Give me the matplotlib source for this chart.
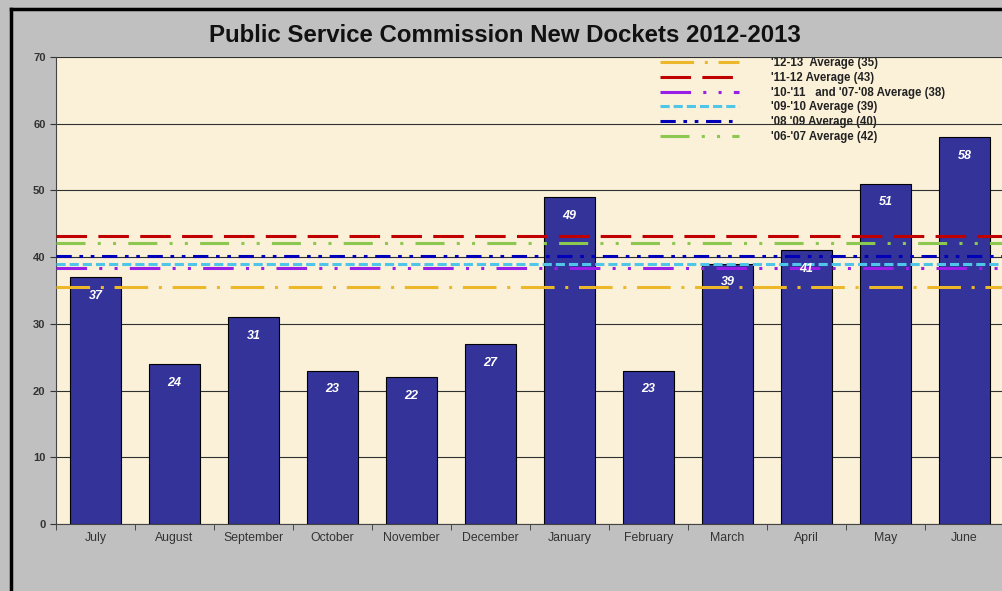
import matplotlib.pyplot as plt
from matplotlib.lines import Line2D
import numpy as np

# Monthly new dockets
months = ['July', 'August', 'September', 'October', 'November', 'December',
          'January', 'February', 'March', 'April', 'May', 'June']
dockets = [37, 24, 31, 23, 22, 27, 49, 23, 39, 41, 51, 58]

# Average lines for earlier years
avg_labels = ["'12-13  Average (35)", "'11-12 Average (43)",
              "'10-'11   and '07-'08 Average (38)", "'09-'10 Average (39)",
              "'08 '09 Average (40)", "'06-'07 Average (42)"]
avg_values = [35.5, 43.1, 38.3, 39.0, 40.2, 42.1]

avg_colors = ['#ecb82a', '#c00000', '#9a1fe6', '#4fc6e8', '#0000b8', '#8cc850']
avg_dashes = [(11, 3.5, 1, 3.5), (10, 3.7), (10, 4, 1, 4, 1, 4), (3, 1.3),
              (5, 2.5, 1.2, 2.5, 1.2, 2.5), (9.5, 4, 1, 4, 1, 4)]

plt.rcParams['font.family'] = ['Liberation Sans', 'DejaVu Sans']

fig = plt.figure(figsize=(10.02, 5.91), dpi=100, facecolor='#c0c0c0')
ax = fig.add_axes([56 / 1002, 1 - 524 / 591, 948 / 1002, 467 / 591])
ax.set_facecolor('#fbf1d9')

x = np.arange(len(months))
bars = ax.bar(x, dockets, width=0.645, color='#333399', edgecolor='black',
              linewidth=0.8, zorder=2)

# value labels inside bars
for xi, v in zip(x, dockets):
    ax.text(xi, v - 2.8, str(v), ha='center', va='center', color='white',
            fontsize=9, fontweight='bold', fontstyle='italic', zorder=4)

# average lines across the whole chart
handles = []
for lab, val, col, dsh in zip(avg_labels, avg_values, avg_colors, avg_dashes):
    ln = ax.axhline(val, color=col, linewidth=2.2, dashes=dsh, zorder=3, label=lab)
    handles.append(ln)

ax.set_xlim(-0.5, len(months) - 0.5)
ax.set_ylim(0, 70)
ax.set_yticks(range(0, 71, 10))
ax.set_xticks(x)
ax.set_xticklabels(months, fontsize=8.8, color='#333333')
ax.set_xticks(np.arange(-0.5, len(months), 1), minor=True)
ax.tick_params(axis='x', which='major', length=0, pad=6)
ax.tick_params(axis='x', which='minor', length=4, direction='out', color='#333333')
ax.tick_params(axis='y', length=4, direction='out', color='#333333')
for t in ax.get_yticklabels():
    t.set_fontsize(8)
    t.set_fontweight('bold')
    t.set_color('#333333')

ax.grid(axis='y', color='#303030', linewidth=0.8)
ax.set_axisbelow('line')
for s in ['top', 'right']:
    ax.spines[s].set_visible(False)
ax.spines['left'].set_color('#444444')
ax.spines['bottom'].set_color('#444444')

leg = ax.legend(handles=handles, loc='upper left',
                bbox_to_anchor=(650 / 1002, 1 - 47 / 591),
                bbox_transform=fig.transFigure, frameon=False,
                handlelength=6.8, handletextpad=2.8, labelspacing=0.23,
                prop={'size': 8.3, 'weight': 'bold'})
for t in leg.get_texts():
    t.set_color('#222222')
leg.set_zorder(1)

fig.text(505 / 1002, 1 - 35 / 591, 'Public Service Commission New Dockets 2012-2013',
         ha='center', va='center', fontsize=17.3, fontweight='bold', color='#111111')

# outer frame
fig.add_artist(Line2D([11 / 1002, 11 / 1002], [0, 1 - 9 / 591], color='black',
                      linewidth=2.5, transform=fig.transFigure))
fig.add_artist(Line2D([11 / 1002, 1], [1 - 9 / 591, 1 - 9 / 591], color='black',
                      linewidth=2.5, transform=fig.transFigure))

plt.savefig('out.png', dpi=100, facecolor=fig.get_facecolor())
plt.close()
